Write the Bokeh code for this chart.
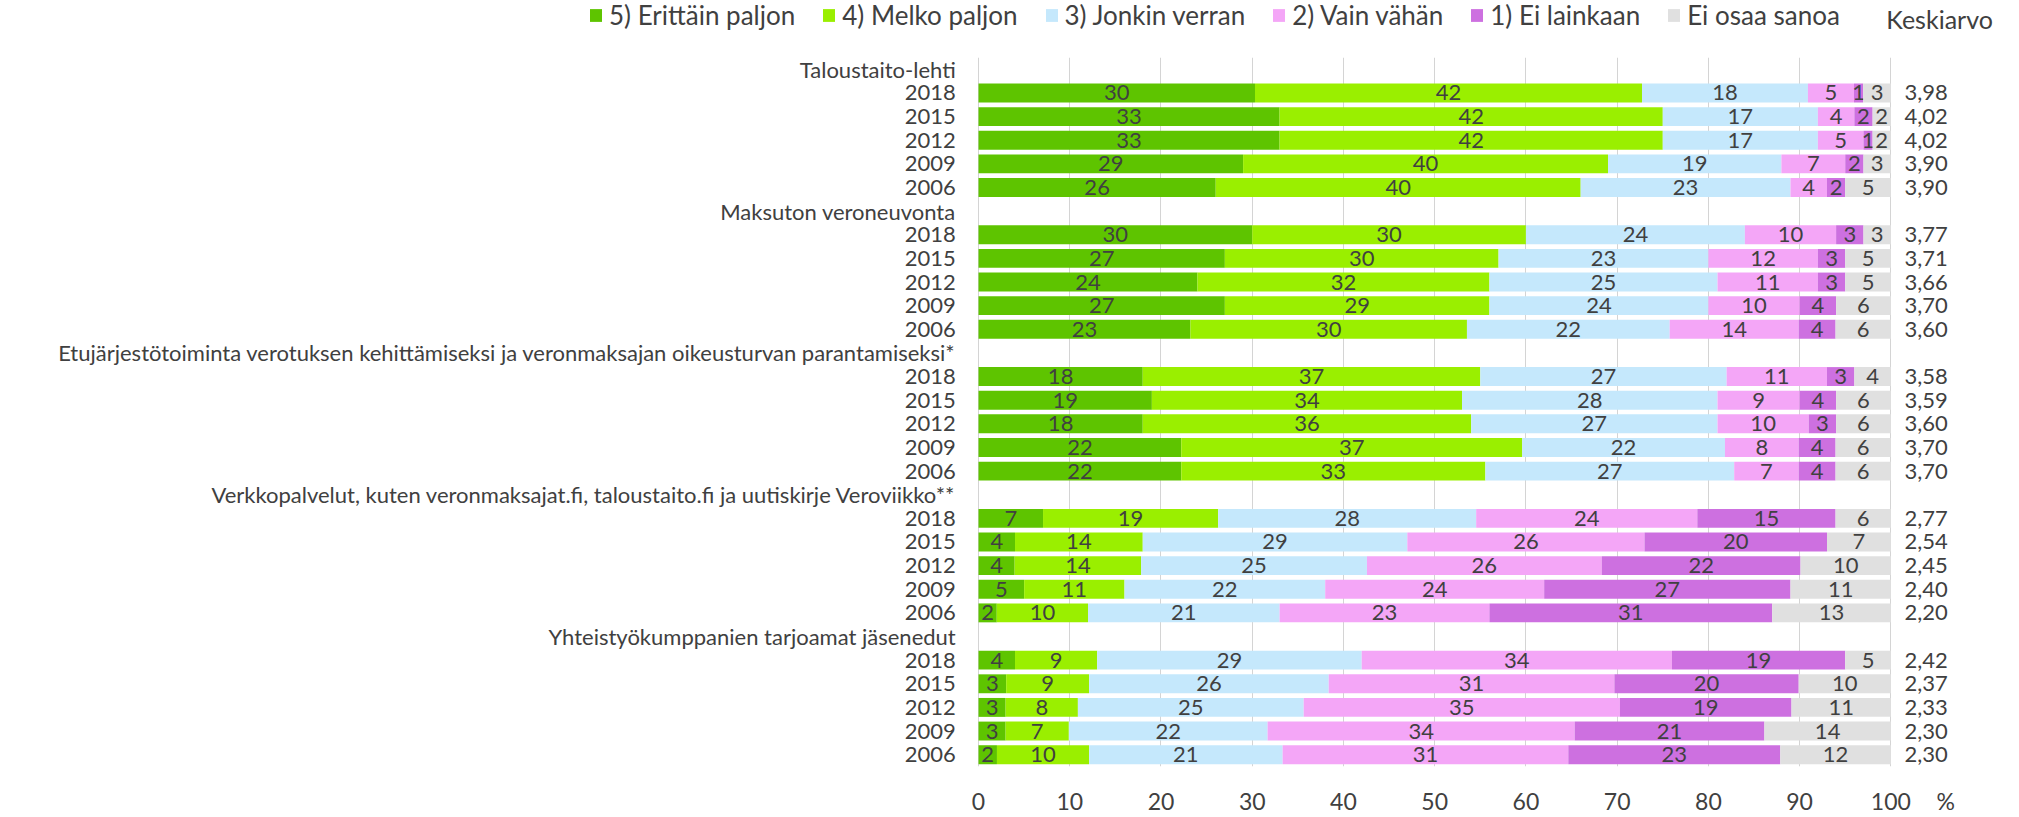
from bokeh.plotting import figure
from bokeh.layouts import column
from bokeh.models import Range1d, FixedTicker, Legend, LegendItem, ColumnDataSource
from bokeh.embed import file_html
from bokeh.resources import INLINE
from bokeh.core.properties import value

groups = [
    "Taloustaito-lehti",
    "Maksuton veroneuvonta",
    "Etujärjestötoiminta verotuksen kehittämiseksi ja veronmaksajan oikeusturvan parantamiseksi*",
    "Verkkopalvelut, kuten veronmaksajat.fi, taloustaito.fi ja uutiskirje Veroviikko**",
    "Yhteistyökumppanien tarjoamat jäsenedut",
]
years = ["2018", "2015", "2012", "2009", "2006"]
series = ["5) Erittäin paljon", "4) Melko paljon", "3) Jonkin verran",
          "2) Vain vähän", "1) Ei lainkaan", "Ei osaa sanoa"]
colors = ["#5ec400", "#9aef00", "#c5e8fc", "#f4a6f7", "#cd70e0", "#e0e0e0"]

erittain = [30, 33, 33, 29, 26, 30, 27, 24, 27, 23, 18, 19, 18, 22, 22, 7, 4, 4, 5, 2, 4, 3, 3, 3, 2]
melko = [42, 42, 42, 40, 40, 30, 30, 32, 29, 30, 37, 34, 36, 37, 33, 19, 14, 14, 11, 10, 9, 9, 8, 7, 10]
jonkin = [18, 17, 17, 19, 23, 24, 23, 25, 24, 22, 27, 28, 27, 22, 27, 28, 29, 25, 22, 21, 29, 26, 25, 22, 21]
vahan = [5, 4, 5, 7, 4, 10, 12, 11, 10, 14, 11, 9, 10, 8, 7, 24, 26, 26, 24, 23, 34, 31, 35, 34, 31]
ei_lainkaan = [1, 2, 1, 2, 2, 3, 3, 3, 4, 4, 3, 4, 3, 4, 4, 15, 20, 22, 27, 31, 19, 20, 19, 21, 23]
eos = [3, 2, 2, 3, 5, 3, 5, 5, 6, 6, 4, 6, 6, 6, 6, 6, 7, 10, 11, 13, 5, 10, 11, 14, 12]
keskiarvo = ["3,98", "4,02", "4,02", "3,90", "3,90",
             "3,77", "3,71", "3,66", "3,70", "3,60",
             "3,58", "3,59", "3,60", "3,70", "3,70",
             "2,77", "2,54", "2,45", "2,40", "2,20",
             "2,42", "2,37", "2,33", "2,30", "2,30"]
keskiarvo_title = "Keskiarvo"
x_ticks = [0, 10, 20, 30, 40, 50, 60, 70, 80, 90, 100]
unit_label = "%"

all_series = [erittain, melko, jonkin, vahan, ei_lainkaan, eos]
FONT = "Lato"
TXT = "#404040"
W = 2019
xr = Range1d(-107.2, 114.1)   # frame spans the whole width; 0..100 sits at the chart area

# ---------- top strip: legend + "Keskiarvo" ----------
top = figure(width=W, height=57, output_backend="svg", toolbar_location=None,
             x_range=xr, y_range=Range1d(0, 1), min_border=0,
             x_axis_location=None, y_axis_location=None)
top.grid.visible = False
top.outline_line_color = None
dummy = []
for c in colors:
    dummy.append(top.hbar(y="y", left="l", right="r", height=1,
                          source=ColumnDataSource(dict(y=[0.5], l=[0], r=[0])),
                          fill_color=c, line_color=None))
legend = Legend(items=[LegendItem(label=s, renderers=[r]) for s, r in zip(series, dummy)],
                orientation="horizontal", location=(588, 26))
legend.label_text_font = FONT
legend.label_text_font_size = "26px"
legend.label_text_color = TXT
legend.label_height = 26
legend.glyph_width = 15
legend.glyph_height = 16
legend.label_standoff = 6
legend.spacing = 26
legend.padding = 0
legend.margin = 0
legend.border_line_color = None
legend.background_fill_alpha = 0
top.add_layout(legend, "center")
top.text(x=[99.5], y=[0.68], text=[keskiarvo_title], text_font=value(FONT), text_font_size="25px",
         text_color=TXT, text_baseline="middle", text_align="left")

# ---------- main chart ----------
row_y = []
label_y = []
label_txt = []
for g, name in enumerate(groups):
    label_y.append(6 * g)
    label_txt.append(name)
    for k, yr in enumerate(years):
        y = 6 * g + 1 + k
        row_y.append(y)
        label_y.append(y)
        label_txt.append(yr)

n = len(row_y)
totals = [sum(s[i] for s in all_series) for i in range(n)]

p = figure(width=W, height=760, output_backend="svg", toolbar_location=None,
           x_range=xr, y_range=Range1d(29.5, -0.5), y_axis_location=None,
           min_border_left=0, min_border_right=0, min_border_top=0, min_border_bottom=50)
p.outline_line_color = None

cum = [0.0] * n
for si, vals in enumerate(all_series):
    lefts = cum
    rights = [cum[i] + vals[i] * 100.0 / totals[i] for i in range(n)]
    cum = rights
    src = ColumnDataSource(dict(y=row_y, left=lefts, right=rights,
                                mid=[(a + b) / 2 for a, b in zip(lefts, rights)],
                                lab=[str(v) for v in vals]))
    p.hbar(y="y", left="left", right="right", height=0.8, source=src,
           fill_color=colors[si], line_color=None)
    p.text(x="mid", y="y", text="lab", source=src, text_align="center", text_baseline="middle",
           text_font=value(FONT), text_font_size="22px", text_color=TXT)

# row labels (category headers and years), right-aligned left of the bars
p.text(x=[-2.5] * len(label_y), y=label_y, text=label_txt, text_align="right",
       text_baseline="middle", text_font=value(FONT), text_font_size="22px", text_color=TXT)

# averages to the right of the bars
p.text(x=[101.5] * n, y=row_y, text=keskiarvo, text_align="left", text_baseline="middle",
       text_font=value(FONT), text_font_size="22px", text_color=TXT)

p.xaxis.ticker = FixedTicker(ticks=x_ticks + [106])
p.xaxis.major_label_overrides = {106: unit_label}
p.xaxis.axis_line_color = None
p.xaxis.major_tick_line_color = None
p.xaxis.major_tick_out = 0
p.xaxis.minor_tick_line_color = None
p.xaxis.major_label_text_font = FONT
p.xaxis.major_label_text_font_size = "23px"
p.xaxis.major_label_text_color = TXT
p.xaxis.major_label_standoff = 20

p.xgrid.ticker = FixedTicker(ticks=x_ticks)
p.xgrid.grid_line_color = "#d4d4d4"
p.ygrid.grid_line_color = None

layout = column(top, p, spacing=0)
open("out.html", "w").write(file_html(layout, INLINE))
